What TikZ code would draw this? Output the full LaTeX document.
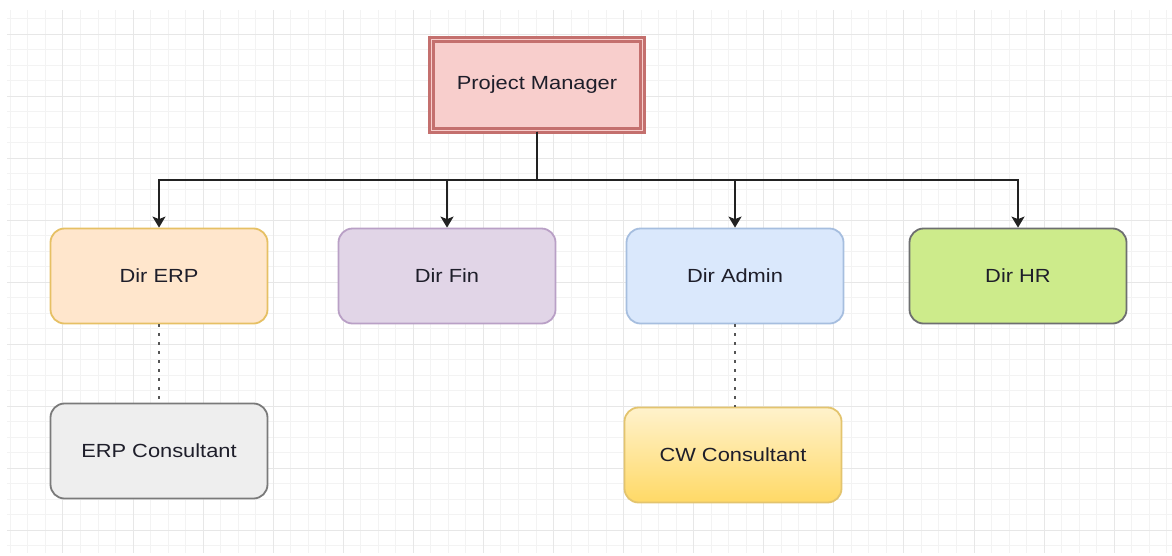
\documentclass[tikz,border=0pt]{standalone}
\usepackage{fontspec}
\setmainfont{Liberation Sans}
\usepackage{graphicx}
\usetikzlibrary{arrows.meta}

% palette
\definecolor{gridminor}{HTML}{F3F3F3}
\definecolor{gridmajor}{HTML}{E7E7E7}
\definecolor{pmfill}{HTML}{F8CECC}
\definecolor{pmline}{HTML}{C4706E}
\definecolor{erpfill}{HTML}{FFE6CC}
\definecolor{erpline}{HTML}{E6C064}
\definecolor{finfill}{HTML}{E1D5E7}
\definecolor{finline}{HTML}{B9A0C6}
\definecolor{admfill}{HTML}{DAE8FC}
\definecolor{admline}{HTML}{A6BEDF}
\definecolor{hrfill}{HTML}{CDEB8B}
\definecolor{hrline}{HTML}{6E6F70}
\definecolor{conefill}{HTML}{EEEEEE}
\definecolor{coneline}{HTML}{7A7A7A}
\definecolor{cwtop}{HTML}{FFF2CC}
\definecolor{cwbot}{HTML}{FFD966}
\definecolor{cwline}{HTML}{E3C46E}
\definecolor{linec}{HTML}{222222}
\definecolor{dotc}{HTML}{555555}
\definecolor{textc}{HTML}{1E1E2A}

% labels are set slightly wide
\newcommand{\widetext}[1]{\scalebox{1.15}[1]{#1}}

\begin{document}
\begin{tikzpicture}[x=1pt,y=-1pt,
  box/.style={rounded corners=14pt, line width=1.8pt, minimum width=217pt,
    minimum height=95pt, inner sep=0pt, font=\fontsize{19}{22}\selectfont, text=textc},
  link/.style={line width=1.9pt, draw=linec,
    -{Stealth[length=11pt,width=13pt,inset=2.5pt]}},
  dotlink/.style={line width=1.8pt, draw=dotc, dash pattern=on 3pt off 6pt}]

% canvas
\useasboundingbox (0,0) rectangle (1172,555);
\fill[white] (0,0) rectangle (1172,555);

% background grid
\begin{scope}
  \clip (7,10) rectangle (1172,553);
  \foreach \k in {0,...,66}
    \draw[gridminor, line width=1pt] ({10.4+17.52*\k},10) -- ({10.4+17.52*\k},553);
  \foreach \k in {0,...,34}
    \draw[gridminor, line width=1pt] (7,{18.5+15.5*\k}) -- (1172,{18.5+15.5*\k});
  \foreach \k in {3,7,...,63}
    \draw[gridmajor, line width=1pt] ({10.4+17.52*\k},10) -- ({10.4+17.52*\k},553);
  \foreach \k in {1,5,...,33}
    \draw[gridmajor, line width=1pt] (7,{18.5+15.5*\k}) -- (1172,{18.5+15.5*\k});
\end{scope}

% nodes
\node[draw=pmline, fill=pmfill, line width=2.4pt, double=pmfill, double distance=1.8pt,
  minimum width=211pt, minimum height=91pt, inner sep=0pt,
  font=\fontsize{19}{22}\selectfont, text=textc]
  (pm) at (537,85) {\widetext{Project Manager}};

\node[box, draw=erpline, fill=erpfill] (erp) at (159,276) {\widetext{Dir ERP}};
\node[box, draw=finline, fill=finfill] (fin) at (447,276) {\widetext{Dir Fin}};
\node[box, draw=admline, fill=admfill] (adm) at (735,276) {\widetext{Dir Admin}};
\node[box, draw=hrline, fill=hrfill] (hr) at (1018,276) {\widetext{Dir HR}};

\node[box, draw=coneline, fill=conefill] (erpc) at (159,451) {\widetext{ERP Consultant}};
\node[box, draw=cwline, top color=cwtop, bottom color=cwbot] (cw) at (733,455)
  {\widetext{CW Consultant}};

% reporting lines
\coordinate (bus) at (537,180);
\draw[link] (pm.south) -- (bus) -| (erp.north);
\draw[link] (pm.south) -- (bus) -| (fin.north);
\draw[link] (pm.south) -- (bus) -| (adm.north);
\draw[link] (pm.south) -- (bus) -| (hr.north);

% consultant links
\draw[dotlink] (erp.south) -- (erpc.north);
\draw[dotlink] (adm.south) -- (adm.south |- cw.north);
\end{tikzpicture}
\end{document}
